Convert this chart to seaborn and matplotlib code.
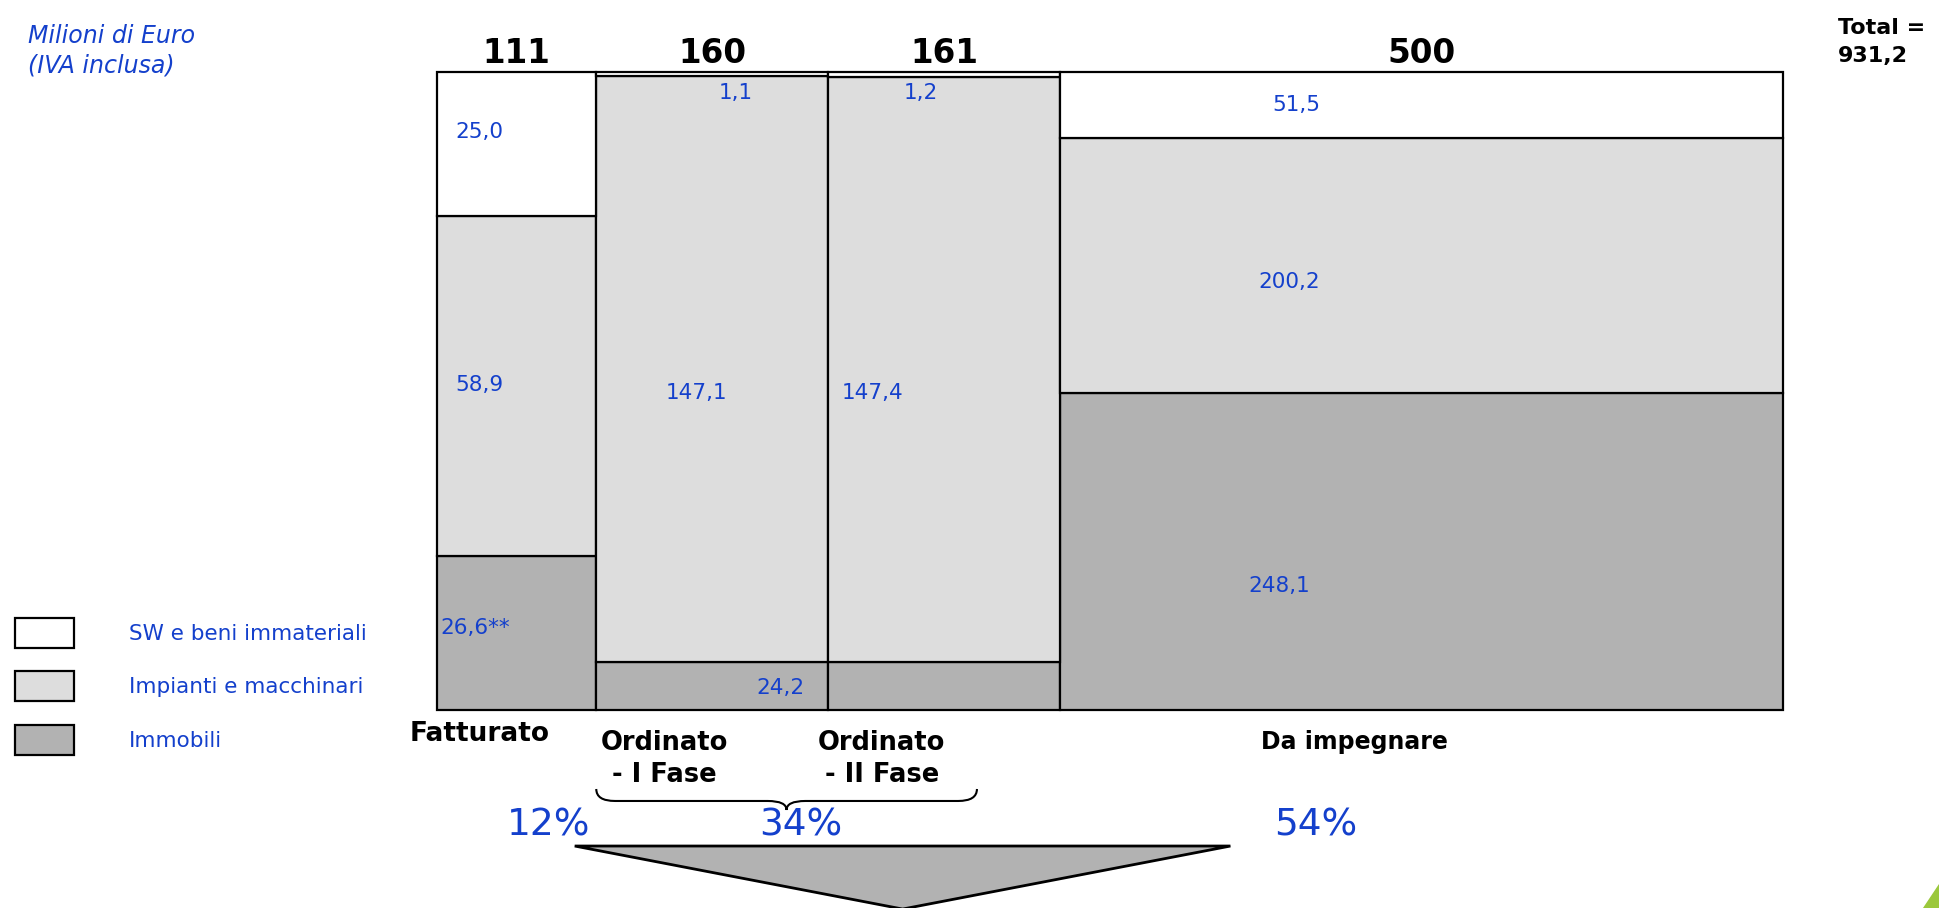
import numpy as np
import pandas as pd
import matplotlib
matplotlib.use('Agg')
import matplotlib.pyplot as plt
from matplotlib.path import Path
from matplotlib.patches import PathPatch, Polygon
import seaborn as sns

# values in milioni di euro
categories = ['Fatturato', 'Ordinato\n- I Fase', 'Ordinato\n- II Fase', 'Da impegnare']
col_headers = ['111', '160', '161', '500']
sw_immateriali = [25.0, 1.1, 1.2, 51.5]
impianti = [58.9, 147.1, 147.4, 200.2]
immobili = [26.6, 12.1, 12.1, 248.1]   # the 24,2 is split over the two "Ordinato" columns
total_label = '931,2'
legend_labels = ['SW e beni immateriali', 'Impianti e macchinari', 'Immobili']
pct_groups = [[0], [1, 2], [3]]

BLUE = '#1440CC'
colors = {'Immobili': '#B2B2B2', 'Impianti e macchinari': '#DDDDDD',
          'SW e beni immateriali': 'white'}

df = pd.DataFrame({'cat': categories,
                   'SW e beni immateriali': sw_immateriali,
                   'Impianti e macchinari': impianti,
                   'Immobili': immobili})
widths = df[legend_labels].sum(axis=1).values
starts = np.cumsum(widths) - widths
total = widths.sum()


def fmt(v):
    return f'{v:.1f}'.replace('.', ',')


sns.set_theme(style='white')
plt.rcParams['font.family'] = ['DejaVu Sans']
plt.rcParams['text.color'] = 'black'

W, H = 1939, 908
fig = plt.figure(figsize=(W / 100, H / 100), dpi=100)
ax = fig.add_axes([436.5 / W, 1 - 710 / H, 1346.5 / W, 638 / H])

# marimekko: width = column total, height = share of each layer
bottom = np.zeros(len(df))
handles = {}
for layer in ['Immobili', 'Impianti e macchinari', 'SW e beni immateriali']:
    share = df[layer].values / widths
    bars = ax.bar(starts, share, width=widths, bottom=bottom, align='edge',
                  color=colors[layer], edgecolor='black', linewidth=1.6,
                  label=layer, clip_on=False)
    handles[layer] = bars
    bottom += share

ax.set_xlim(0, total)
ax.set_ylim(0, 1)
ax.axis('off')

# value labels (x, y in data units)
sw_pos = [(12.9, 0.9055, 'left'), (207.1, 0.967, 'center'),
          (335.1, 0.967, 'center'), (594.9, 0.948, 'center')]
imp_pos = [(12.9, 0.510, 'left'), (179.5, 0.497, 'center'),
           (301.9, 0.497, 'center'), (589.6, 0.671, 'center')]
imm_pos = [(2.8, 0.1285, 'left'), (237.6, 0.035, 'center'),
           None, (582.7, 0.194, 'center')]

imm_text = [fmt(immobili[0]) + '**', fmt(immobili[1] + immobili[2]), None,
            fmt(immobili[3])]
for vals, pos, texts in [(sw_immateriali, sw_pos, None),
                         (impianti, imp_pos, None),
                         (immobili, imm_pos, imm_text)]:
    for i, v in enumerate(vals):
        if pos[i] is None:
            continue
        x, y, ha = pos[i]
        t = texts[i] if texts else fmt(v)
        ax.text(x, y, t, ha=ha, va='center', color=BLUE, fontsize=15.5)

# column totals on top
for s, w, h in zip(starts, widths, col_headers):
    ax.text(s + w / 2, 1.0295, h, ha='center', va='center', fontsize=23.5,
            fontweight='bold', color='black')

# category names below
cat_x = [30.1, 157.4, 307.9, 634.6]
cat_y = [-0.0384, -0.0773, -0.0773, -0.0502]
cat_size = [19, 18.5, 18.5, 17]
for c, x, y, fs in zip(categories, cat_x, cat_y, cat_size):
    ax.text(x, y, c, ha='center', va='center', fontsize=fs,
            fontweight='bold', color='black', linespacing=1.3, clip_on=False)

# percentages
pct_x = [77.8, 252.3, 608.2]
for g, x in zip(pct_groups, pct_x):
    p = round(widths[g].sum() / total * 100)
    ax.text(x, -0.1818, f'{p}%', ha='center', va='center', fontsize=27,
            color=BLUE)

# curly brace under the two "Ordinato" columns
bx0, bx1, bxm = starts[1], 373.8, 242.1
yt, yh, yp = -0.1238, -0.1426, -0.1567
r = 13
verts = [(bx0, yt), (bx0, yh), (bx0 + r, yh),
         (bxm - r, yh),
         (bxm, yh), (bxm, yp), (bxm, yh), (bxm + r, yh),
         (bx1 - r, yh),
         (bx1, yh), (bx1, yt)]
codes = [Path.MOVETO, Path.CURVE3, Path.CURVE3,
         Path.LINETO,
         Path.CURVE3, Path.CURVE3, Path.CURVE3, Path.CURVE3,
         Path.LINETO,
         Path.CURVE3, Path.CURVE3]
ax.add_patch(PathPatch(Path(verts, codes), fill=False, edgecolor='black',
                       linewidth=1.5, clip_on=False))

# funnel triangle
ax.add_patch(Polygon([(95.6, -0.2132), (549.1, -0.2132), (322.4, -0.312)],
                     closed=True, facecolor='#B2B2B2', edgecolor='black',
                     linewidth=2, clip_on=False))

# unit note and total
fig.text(28.4 / W, 1 - 50.6 / H, 'Milioni di Euro\n(IVA inclusa)',
         style='italic', color=BLUE, fontsize=17, va='center', ha='left',
         linespacing=1.3)
fig.text(1837.6 / W, 1 - 42 / H, 'Total =\n' + total_label,
         fontweight='bold', fontsize=16, va='center', ha='left',
         linespacing=1.45, color='black')

# legend
fig.legend(handles=[handles[l] for l in legend_labels], labels=legend_labels,
           loc='upper left', bbox_to_anchor=(14.8 / W, 1 - 618 / H),
           frameon=False, fontsize=15.5, labelcolor=BLUE,
           handlelength=2.76, handleheight=1.75, handletextpad=2.53,
           labelspacing=1.1, borderpad=0, borderaxespad=0)

# green corner of the slide
fig.add_artist(Polygon([(1923 / W, 0), (1, 0), (1, 24 / H)],
                       transform=fig.transFigure, color='#9BC83C'))

fig.savefig('out.png', dpi=100)
